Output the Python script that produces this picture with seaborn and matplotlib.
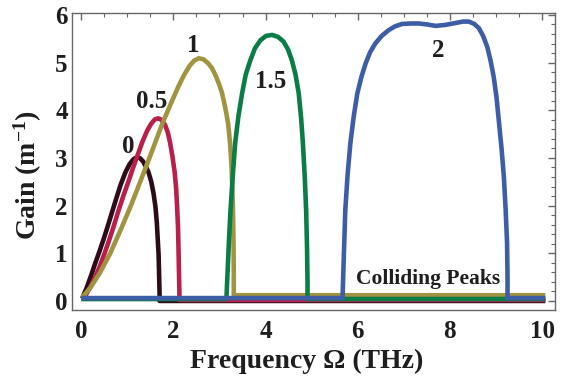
import matplotlib
matplotlib.use("Agg")
import matplotlib.pyplot as plt
import seaborn as sns
import pandas as pd
from matplotlib.ticker import MultipleLocator

# ---- data ----
labels = ["0", "0.5", "1", "1.5", "2"]
colors = ["#2d0c18", "#b81f4b", "#a09441", "#0a7c46", "#3d5da6"]

x0 = [0.02, 0.12, 0.22, 0.30, 0.40, 0.48, 0.56, 0.63, 0.70, 0.77, 0.86, 0.96, 1.05, 1.13, 1.21, 1.28, 1.34, 1.39, 1.46, 1.52, 1.57, 1.61, 1.64, 1.66, 1.68, 1.69, 1.70, 1.70, 10.07]
y0 = [0.05, 0.28, 0.55, 0.78, 1.05, 1.28, 1.52, 1.74, 1.96, 2.18, 2.45, 2.70, 2.87, 2.97, 3.02, 2.99, 2.93, 2.84, 2.70, 2.50, 2.25, 1.98, 1.65, 1.30, 0.95, 0.55, 0.15, 0.0, 0.0]

x05 = [0.06, 0.20, 0.30, 0.40, 0.50, 0.60, 0.70, 0.81, 0.92, 1.03, 1.12, 1.21, 1.32, 1.43, 1.52, 1.60, 1.67, 1.74, 1.82, 1.88, 1.93, 1.98, 2.03, 2.06, 2.08, 2.10, 2.11, 2.12, 2.13, 2.13, 10.07]
y05 = [0.05, 0.30, 0.50, 0.72, 0.98, 1.26, 1.55, 1.90, 2.22, 2.52, 2.78, 3.02, 3.32, 3.57, 3.72, 3.81, 3.83, 3.80, 3.69, 3.53, 3.31, 3.03, 2.68, 2.35, 1.98, 1.55, 1.14, 0.65, 0.2, 0.02, 0.02]

x1 = [0.01, 0.20, 0.40, 0.63, 0.85, 1.07, 1.30, 1.50, 1.76, 1.95, 2.10, 2.22, 2.35, 2.45, 2.55, 2.65, 2.75, 2.84, 2.92, 2.99, 3.05, 3.10, 3.15, 3.19, 3.23, 3.26, 3.28, 3.295, 3.305, 3.31, 3.31, 10.07]
y1 = [0.06, 0.28, 0.58, 1.00, 1.48, 1.98, 2.55, 3.05, 3.72, 4.15, 4.48, 4.72, 4.93, 5.04, 5.09, 5.07, 4.99, 4.88, 4.72, 4.55, 4.38, 4.17, 3.93, 3.70, 3.30, 2.85, 2.35, 1.80, 1.20, 0.60, 0.12, 0.12]

x15 = [0.0, 3.15, 3.18, 3.21, 3.24, 3.29, 3.34, 3.41, 3.49, 3.57, 3.67, 3.77, 3.89, 4.01, 4.14, 4.27, 4.39, 4.49, 4.57, 4.65, 4.72, 4.77, 4.81, 4.85, 4.88, 4.90, 4.91, 4.91, 10.07]
y15 = [0.04, 0.04, 0.70, 1.35, 1.91, 2.65, 3.31, 3.87, 4.35, 4.75, 5.05, 5.30, 5.47, 5.56, 5.58, 5.54, 5.44, 5.27, 5.05, 4.75, 4.35, 3.85, 3.31, 2.60, 1.91, 1.10, 0.40, 0.04, 0.04]

x2 = [0.0, 5.67, 5.70, 5.73, 5.78, 5.84, 5.91, 5.99, 6.08, 6.17, 6.27, 6.38, 6.52, 6.67, 6.81, 6.96, 7.15, 7.33, 7.50, 7.69, 7.90, 8.12, 8.28, 8.41, 8.53, 8.63, 8.72, 8.81, 8.88, 8.95, 9.01, 9.06, 9.12, 9.17, 9.21, 9.24, 9.25, 9.25, 10.07]
y2 = [0.06, 0.06, 1.00, 1.91, 2.65, 3.31, 3.85, 4.35, 4.70, 4.98, 5.22, 5.40, 5.56, 5.68, 5.76, 5.81, 5.82, 5.82, 5.80, 5.77, 5.79, 5.83, 5.86, 5.86, 5.81, 5.72, 5.56, 5.33, 5.05, 4.70, 4.28, 3.79, 3.20, 2.61, 1.90, 1.21, 0.50, 0.06, 0.06]

label_x = [1.01, 1.53, 2.44, 4.10, 7.75]
label_y = [3.25, 4.18, 5.36, 4.60, 5.26]

xs = [x0, x05, x1, x15, x2]
ys = [y0, y05, y1, y15, y2]

# ---- plot ----
sns.set_style("white")
plt.rcParams["font.family"] = ["Liberation Serif", "DejaVu Serif"]
plt.rcParams["font.weight"] = "bold"
plt.rcParams["mathtext.fontset"] = "custom"
plt.rcParams["mathtext.rm"] = "Liberation Serif:bold"
plt.rcParams["mathtext.it"] = "Liberation Serif:bold"
plt.rcParams["mathtext.bf"] = "Liberation Serif:bold"

fig = plt.figure(figsize=(5.65, 3.88), dpi=100)
ax = fig.add_axes([72/565, 1-310/388, (555-72)/565, (310-13)/388])

for lab, c, x, y in zip(labels, colors, xs, ys):
    df = pd.DataFrame({"x": x, "y": y})
    sns.lineplot(data=df, x="x", y="y", sort=False, estimator=None,
                 color=c, linewidth=3.3, ax=ax,
                 solid_joinstyle="round", solid_capstyle="butt")

for lab, lx, ly in zip(labels, label_x, label_y):
    ax.text(lx, ly, lab, fontsize=18, fontweight="bold", ha="center", va="center", color="#1e1e1e")
ax.text(7.53, 0.46, "Colliding Peaks", fontsize=15.5, fontweight="bold", ha="center", va="center", color="#1e1e1e")

ax.set_xlim(-0.2, 10.28)
ax.set_ylim(-0.19, 6.04)
ax.xaxis.set_major_locator(MultipleLocator(2))
ax.xaxis.set_minor_locator(MultipleLocator(0.5))
ax.yaxis.set_major_locator(MultipleLocator(1))
ax.yaxis.set_minor_locator(MultipleLocator(0.2))
ax.tick_params(which="both", direction="in", top=True, right=True, color="#666666")
ax.tick_params(which="major", length=5, width=1, labelsize=18, pad=7, labelcolor="#1e1e1e")
ax.tick_params(axis="y", which="major", pad=3)
ax.tick_params(which="minor", length=3, width=0.8)
for lbl in ax.get_xticklabels() + ax.get_yticklabels():
    lbl.set_fontweight("bold")
for s in ax.spines.values():
    s.set_color("#666666")
    s.set_linewidth(1.0)

ax.set_xlabel("Frequency Ω (THz)", fontsize=20, fontweight="bold", va="center", color="#1e1e1e")
ax.xaxis.set_label_coords((306.7-72)/483, (310-361.7)/297)
ax.set_ylabel("Gain (m$^{-1}$)", fontsize=20, fontweight="bold", va="center", color="#1e1e1e")
ax.yaxis.set_label_coords((28-72)/483, (310-175)/297)

fig.savefig("out.png", dpi=100)
